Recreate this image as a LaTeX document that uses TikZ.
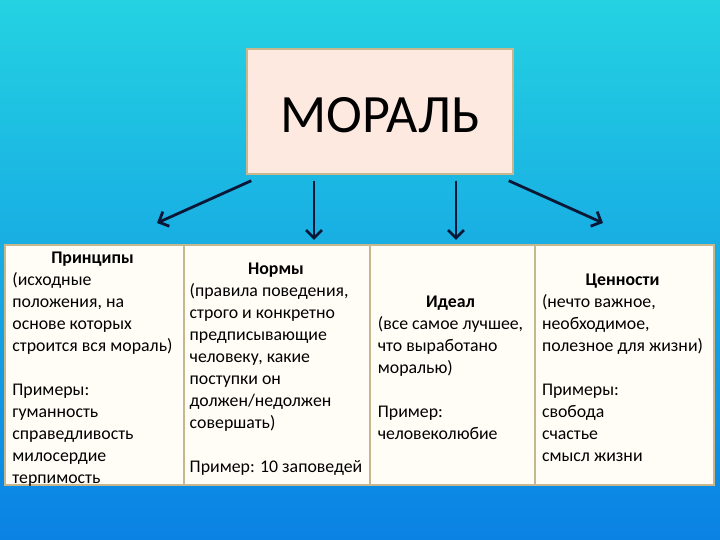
\documentclass[tikz,border=0pt]{standalone}
\usepackage{fontspec}
\setmainfont{Carlito}
\usetikzlibrary{positioning,arrows.meta}
\definecolor{bgtop}{RGB}{36,210,226}
\definecolor{bgbot}{RGB}{10,130,228}
\definecolor{rim}{RGB}{200,182,140}
\definecolor{peach}{RGB}{253,233,224}
\definecolor{cream}{RGB}{255,253,246}
\definecolor{navy}{RGB}{10,24,56}

\begin{document}
\begin{tikzpicture}
                [x=1pt,y=1pt,
                moralbox/.style={draw=rim,line width=1.5pt,fill=peach,minimum width=266pt,minimum height=125pt,text height=42pt,font=\fontsize{54}{60}\selectfont},
                cell/.style={draw=rim,line width=1.5pt,fill=cream,outer sep=0pt,minimum height=240pt,inner sep=0pt},
                txt/.style={inner sep=0pt,font=\fontsize{17.8}{22}\selectfont},
                arr/.style={navy,line width=2.8pt,-{Straight Barb[length=8pt,width=16pt]}}]
                \useasboundingbox (0,0) rectangle (720,540);
                \shade[top color=bgtop,bottom color=bgbot] (0,0) rectangle (720,540);
                \node[moralbox] (moral) at (380,428.5) {МОРАЛЬ};
                \node[cell,minimum width=179pt] (princ) at (94.5,175) {};
                \node[cell,minimum width=186pt,right=0pt of princ] (norm) {};
                \node[cell,minimum width=165pt,right=0pt of norm] (ideal) {};
                \node[cell,minimum width=179pt,right=0pt of ideal] (value) {};
                \node[txt] (princtext) at ([shift={(-2,-4)}]princ.center)
                    {\begin{tabular}{@{}l@{}}\multicolumn{1}{@{}c@{}}{\bfseries Принципы}\\ (исходные\\ положения, на\\ основе которых\\ строится вся мораль)\\ \\
                     Примеры:\\ гуманность\\ справедливость\\ милосердие\\ терпимость\end{tabular}};
                \node[txt] (normtext) at ([shift={(-1,-4)}]norm.center)
                    {\begin{tabular}{@{}l@{}}\multicolumn{1}{@{}c@{}}{\bfseries Нормы}\\ (правила поведения,\\ строго и конкретно\\ предписывающие\\ человеку, какие\\ поступки он\\ должен/недолжен\\ совершать)\\ \\
                     Пример: 10 заповедей\end{tabular}};
                \node[txt] (idealtext) at ([shift={(-2,-4)}]ideal.center)
                    {\begin{tabular}{@{}l@{}}\multicolumn{1}{@{}c@{}}{\bfseries Идеал}\\ (все самое лучшее,\\ что выработано\\ моралью)\\ \\
                     Пример:\\ человеколюбие\end{tabular}};
                \node[txt] (valuetext) at ([shift={(-2,-4)}]value.center)
                    {\begin{tabular}{@{}l@{}}\multicolumn{1}{@{}c@{}}{\bfseries Ценности}\\ (нечто важное,\\ необходимое,\\ полезное для жизни)\\ \\
                     Примеры:\\ свобода\\ счастье\\ смысл жизни\end{tabular}};
                \coordinate (toprinc) at (157,317);
                \coordinate (tonorm) at (314,300);
                \coordinate (toideal) at (456,300);
                \coordinate (tovalue) at (603,317);
                \draw[arr] ([shift={(5,-6)}]moral.south west) -- (toprinc);
                \draw[arr] ([shift={(-66,-6)}]moral.south) -- (tonorm);
                \draw[arr] ([shift={(76,-6)}]moral.south) -- (toideal);
                \draw[arr] ([shift={(-5,-6)}]moral.south east) -- (tovalue);
            \end{tikzpicture}
\end{document}
